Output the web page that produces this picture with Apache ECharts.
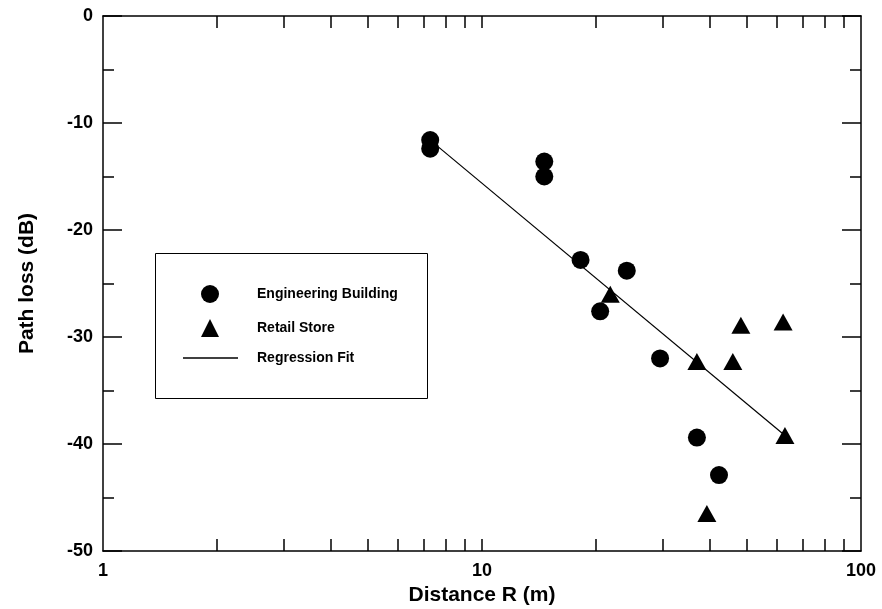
<!DOCTYPE html>
<html>
<head>
<meta charset="utf-8">
<script src="https://cdn.jsdelivr.net/npm/echarts@6/dist/echarts.min.js"></script>
<style>
html,body{margin:0;padding:0;background:#fff;}
#chart{width:882px;height:609px;}
</style>
</head>
<body>
<div id="chart"></div>
<script>
// Data
const engDist = [7.3, 7.3, 14.6, 14.6, 18.2, 24.1, 20.5, 29.5, 36.9, 42.2];
const engLoss = [-11.6, -12.4, -13.6, -15.0, -22.8, -23.8, -27.6, -32.0, -39.4, -42.9];
const retailDist = [21.8, 36.9, 45.9, 48.2, 62.3, 63.0, 39.2];
const retailLoss = [-26.0, -32.3, -32.3, -28.9, -28.6, -39.2, -46.5];
const fitDist = [7.3, 63.0];
const fitLoss = [-11.6, -39.2];
const xTickValues = [2, 3, 4, 5, 6, 7, 8, 9, 10, 20, 30, 40, 50, 60, 70, 80, 90];
const seriesNames = ['Engineering Building', 'Retail Store', 'Regression Fit'];

const zip = (a, b) => a.map((v, i) => [v, b[i]]);
const FONT = '"Liberation Sans", Arial, sans-serif';
const axisLine = { show: true, onZero: false, lineStyle: { color: '#000', width: 1.5 } };
const legendText = { fontFamily: FONT, fontWeight: 'bold', fontSize: 14, color: '#000' };

const chart = echarts.init(document.getElementById('chart'), null, { renderer: 'canvas' });
chart.setOption({
  backgroundColor: '#fff',
  animation: false,
  grid: { left: 103, right: 21, top: 16, bottom: 58, containLabel: false, outerBoundsMode: 'none' },
  graphic: [{
    type: 'rect', left: 153, top: 251, z: 0, silent: true,
    shape: { width: 272, height: 145 },
    style: { fill: 'none', stroke: '#000', lineWidth: 1 }
  }],
  legend: [{
    orient: 'vertical', left: 201, top: 285, padding: 0,
    itemWidth: 18, itemHeight: 18, itemGap: 16,
    selectedMode: false,
    textStyle: Object.assign({ padding: [0, 0, 0, 33] }, legendText),
    data: [seriesNames[0], seriesNames[1]]
  }, {
    orient: 'vertical', left: 183, top: 351, padding: 0,
    itemWidth: 55, itemHeight: 1.5,
    selectedMode: false,
    textStyle: Object.assign({ padding: [0, 0, 0, 14] }, legendText),
    data: [{ name: seriesNames[2], icon: 'rect' }]
  }],
  xAxis: [{
    type: 'log', logBase: 10, min: 1, max: 100,
    name: 'Distance R (m)', nameLocation: 'middle', nameGap: 31,
    nameTextStyle: { fontFamily: FONT, fontWeight: 'bold', fontSize: 21, color: '#000' },
    axisLine: axisLine,
    axisTick: { show: true, inside: true, length: 12, customValues: xTickValues, lineStyle: { color: '#000', width: 1.5 } },
    axisLabel: { fontFamily: FONT, fontWeight: 'bold', fontSize: 18, color: '#000', margin: 11 },
    splitLine: { show: false }
  }, {
    type: 'log', logBase: 10, min: 1, max: 100, position: 'top',
    axisLine: axisLine,
    axisTick: { show: true, inside: true, length: 12, customValues: xTickValues, lineStyle: { color: '#000', width: 1.5 } },
    axisLabel: { show: false },
    splitLine: { show: false }
  }],
  yAxis: [{
    type: 'value', min: -50, max: 0, interval: 10,
    name: 'Path loss (dB)', nameLocation: 'middle', nameGap: 65, nameRotate: 90,
    nameTextStyle: { fontFamily: FONT, fontWeight: 'bold', fontSize: 21, color: '#000' },
    axisLine: axisLine,
    axisTick: { show: true, inside: true, length: 19, lineStyle: { color: '#000', width: 1.5 } },
    minorTick: { show: true, splitNumber: 2, length: 11, lineStyle: { color: '#000', width: 1.5 } },
    axisLabel: { fontFamily: FONT, fontWeight: 'bold', fontSize: 18, color: '#000', margin: 10 },
    splitLine: { show: false }
  }, {
    type: 'value', min: -50, max: 0, interval: 10, position: 'right',
    axisLine: axisLine,
    axisTick: { show: true, inside: true, length: 19, lineStyle: { color: '#000', width: 1.5 } },
    minorTick: { show: true, splitNumber: 2, length: 11, lineStyle: { color: '#000', width: 1.5 } },
    axisLabel: { show: false },
    splitLine: { show: false }
  }],
  series: [{
    name: seriesNames[0], type: 'scatter', symbol: 'circle', symbolSize: 18,
    itemStyle: { color: '#000', opacity: 1 },
    data: zip(engDist, engLoss), z: 3
  }, {
    name: seriesNames[1], type: 'scatter', symbol: 'triangle', symbolSize: [19, 17],
    itemStyle: { color: '#000', opacity: 1 },
    data: zip(retailDist, retailLoss), z: 3
  }, {
    name: seriesNames[2], type: 'line', symbol: 'none', showSymbol: false,
    lineStyle: { color: '#000', width: 1.2 }, itemStyle: { color: '#000' },
    data: zip(fitDist, fitLoss), z: 2
  }]
});
</script>
</body>
</html>
